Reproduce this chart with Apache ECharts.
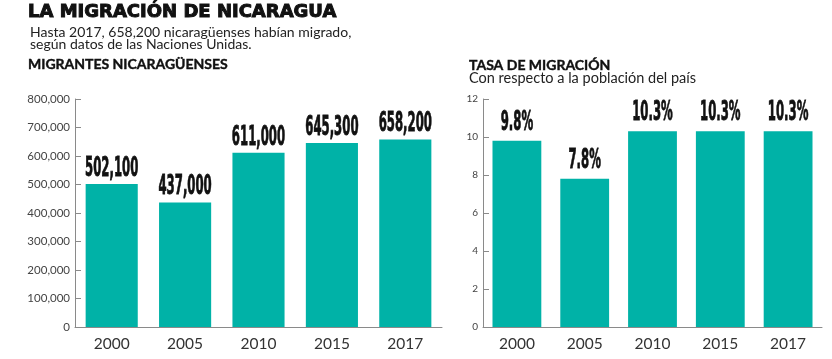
<!DOCTYPE html>
<html><head><meta charset="utf-8">
<script src="https://cdn.jsdelivr.net/npm/echarts@6/dist/echarts.min.js"></script>
<style>html,body{margin:0;padding:0;background:#fff}#c{width:832px;height:359px}</style>
</head><body><div id="c"></div>
<script>
const years = ['2000', '2005', '2010', '2015', '2017'];
const migrantes = [502100, 437000, 611000, 645300, 658200];
const tasa = [9.8, 7.8, 10.3, 10.3, 10.3];
const migrantesTicks = [0, 100000, 200000, 300000, 400000, 500000, 600000, 700000, 800000];
const tasaTicks = [0, 2, 4, 6, 8, 10, 12];

const TEAL = '#00b2a7';
const AXIS = '#8a8a8a';
const UI = 'Lato, "Noto Sans", sans-serif';
const VALFONT = '"DejaVu Sans Condensed", "Liberation Sans", sans-serif';

function fmt(n){ return n.toLocaleString('en-US'); }

function labelSeries(xi, yi, data, textFn, gap){
  return {
    type: 'custom', xAxisIndex: xi, yAxisIndex: yi, z: 5,
    data: data.map((v, i) => [i, v]),
    renderItem: function(params, api){
      const p = api.coord([api.value(0), api.value(1)]);
      return {
        type: 'text', x: p[0], y: p[1] - gap, scaleX: 0.5, scaleY: 1,
        style: { text: textFn(api.value(1)), x: 0, y: 0, align: 'center', verticalAlign: 'bottom',
          font: 'bold 26px ' + VALFONT, fill: '#111', stroke: '#111', lineWidth: 0.8 }
      };
    }
  };
}

function xAxis(gi){
  return {
    type: 'category', gridIndex: gi, data: years,
    axisLine: { lineStyle: { color: AXIS, width: 1 } },
    axisTick: { inside: true, length: 5, lineStyle: { color: AXIS } },
    axisLabel: { color: '#333', fontFamily: UI, fontSize: 15.5, margin: 9 }
  };
}
function yAxis(gi, max, interval, ticks, fmtFn, fs){
  return {
    type: 'value', gridIndex: gi, min: 0, max: max, interval: interval,
    splitLine: { show: false },
    axisLine: { show: true, lineStyle: { color: AXIS, width: 1 } },
    axisTick: { show: true, inside: true, length: 6, lineStyle: { color: AXIS } },
    axisLabel: { color: '#444', fontFamily: UI, fontSize: fs, margin: 5,
      formatter: v => ticks.indexOf(v) >= 0 ? fmtFn(v) : '' }
  };
}

const chart = echarts.init(document.getElementById('c'), null, { renderer: 'canvas' });
chart.setOption({
  animation: false,
  title: [
    { text: 'LA MIGRACIÓN DE NICARAGUA', left: 28, top: 2, padding: 0,
      textStyle: { fontFamily: '"DejaVu Sans", sans-serif', fontWeight: 'bold', fontSize: 18, lineHeight: 20, color: '#111',
        textBorderColor: '#111', textBorderWidth: 1 } },
    { text: 'Hasta 2017, 658,200 nicaragüenses habían migrado,\nsegún datos de las Naciones Unidas.', left: 30, top: 26, padding: 0,
      textStyle: { fontFamily: UI, fontWeight: 'normal', fontSize: 14, lineHeight: 12.5, color: '#222' } },
    { text: 'MIGRANTES NICARAGÜENSES', left: 28, top: 57, padding: 0,
      textStyle: { fontFamily: UI, fontWeight: 'bold', fontSize: 14, lineHeight: 14, color: '#111',
        textBorderColor: '#111', textBorderWidth: 0.4 } },
    { text: 'TASA DE MIGRACIÓN', left: 469, top: 58, padding: 0,
      textStyle: { fontFamily: UI, fontWeight: 'bold', fontSize: 14, lineHeight: 14, color: '#111',
        textBorderColor: '#111', textBorderWidth: 0.4 } },
    { text: 'Con respecto a la población del país', left: 469, top: 71, padding: 0,
      textStyle: { fontFamily: UI, fontWeight: 'normal', fontSize: 14.5, lineHeight: 14, color: '#222' } }
  ],
  grid: [
    { left: 75, right: 390, top: 99, bottom: 32 },
    { left: 483, right: 10, top: 99, bottom: 32 }
  ],
  xAxis: [xAxis(0), xAxis(1)],
  yAxis: [
    yAxis(0, 800000, 100000, migrantesTicks, fmt, 11.5),
    yAxis(1, 12, 2, tasaTicks, v => String(v), 10)
  ],
  series: [
    { type: 'bar', xAxisIndex: 0, yAxisIndex: 0, data: migrantes, barCategoryGap: '29%',
      itemStyle: { color: TEAL } },
    { type: 'bar', xAxisIndex: 1, yAxisIndex: 1, data: tasa, barCategoryGap: '28%',
      itemStyle: { color: TEAL } },
    labelSeries(0, 0, migrantes, v => fmt(v), 2),
    labelSeries(1, 1, tasa, v => v.toFixed(1) + '%', 5)
  ]
});
</script></body></html>
